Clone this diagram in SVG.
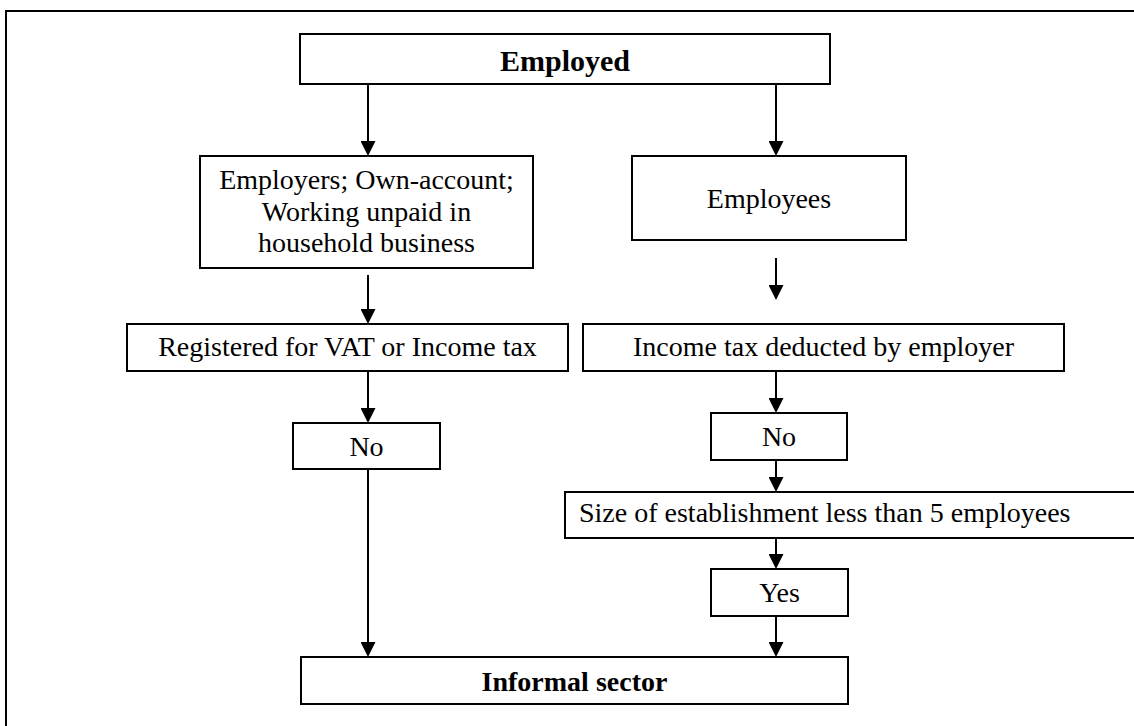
<svg xmlns="http://www.w3.org/2000/svg" width="1134" height="726" viewBox="0 0 1134 726">
<defs>
<marker id="ah" markerUnits="userSpaceOnUse" markerWidth="15" markerHeight="15" refX="5" refY="7.5" orient="auto">
<path d="M0,0 L15,7.5 L0,15 Z" fill="#000"/>
</marker>
<style>
.box{fill:#fff;stroke:#000;stroke-width:2}
.t{font-family:"Liberation Serif","Times New Roman",serif;font-size:28px;fill:#000;text-anchor:middle}
.b{font-weight:bold}
.c{stroke:#000;stroke-width:2;fill:none;marker-end:url(#ah)}
</style>
</defs>
<rect x="0" y="0" width="1134" height="726" fill="#fff"/>
<rect id="frame" x="6" y="11" width="1140" height="730" fill="none" stroke="#000" stroke-width="2"/>

<g id="connectors">
<line class="c" x1="368" y1="84" x2="368" y2="146"/>
<line class="c" x1="776" y1="84" x2="776" y2="146"/>
<line class="c" x1="368" y1="275" x2="368" y2="314"/>
<line class="c" x1="776" y1="258" x2="776" y2="290"/>
<line class="c" x1="368" y1="371" x2="368" y2="413"/>
<line class="c" x1="368" y1="469" x2="368" y2="647"/>
<line class="c" x1="776" y1="371" x2="776" y2="403"/>
<line class="c" x1="776" y1="460" x2="776" y2="482"/>
<line class="c" x1="776" y1="538" x2="776" y2="559"/>
<line class="c" x1="776" y1="616" x2="776" y2="647"/>
</g>

<g id="employed">
<rect class="box" x="300" y="34" width="530" height="50"/>
<text class="t b" x="565" y="71" style="font-size:30px">Employed</text>
</g>

<g id="employers">
<rect class="box" x="200" y="156" width="333" height="112"/>
<text class="t" x="366.5" y="189">Employers; Own-account;</text>
<text class="t" x="366.5" y="220.5">Working unpaid in</text>
<text class="t" x="366.5" y="252">household business</text>
</g>

<g id="employees">
<rect class="box" x="632" y="156" width="274" height="84"/>
<text class="t" x="769" y="208">Employees</text>
</g>

<g id="registered">
<rect class="box" x="127" y="324" width="441" height="47"/>
<text class="t" x="347.5" y="356">Registered for VAT or Income tax</text>
</g>

<g id="incometax">
<rect class="box" x="583" y="324" width="481" height="47"/>
<text class="t" x="823.5" y="356">Income tax deducted by employer</text>
</g>

<g id="no-left">
<rect class="box" x="293" y="423" width="147" height="46"/>
<text class="t" x="366.5" y="456">No</text>
</g>

<g id="no-right">
<rect class="box" x="711" y="413" width="136" height="47"/>
<text class="t" x="779" y="445.5">No</text>
</g>

<g id="size">
<rect class="box" x="565" y="492" width="580" height="46"/>
<text class="t" x="579" y="522" style="text-anchor:start">Size of establishment less than 5 employees</text>
</g>

<g id="yes">
<rect class="box" x="711" y="569" width="137" height="47"/>
<text class="t" x="779.5" y="602">Yes</text>
</g>

<g id="informal">
<rect class="box" x="301" y="657" width="547" height="47"/>
<text class="t b" x="574.5" y="691">Informal sector</text>
</g>
</svg>
